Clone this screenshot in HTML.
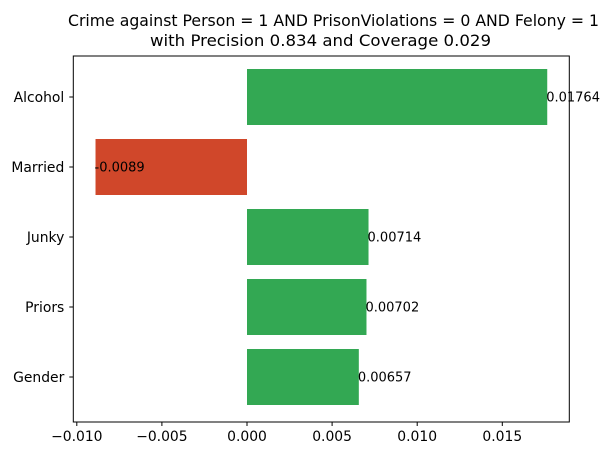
<!DOCTYPE html>
<html><head><meta charset="utf-8"><style>
body{margin:0;background:#fff;font-family:"DejaVu Sans","Liberation Sans",sans-serif;}
svg text{font-family:"DejaVu Sans","Liberation Sans",sans-serif;}
</style></head><body>
<svg id="chart" width="613" height="456" xmlns="http://www.w3.org/2000/svg">
<text x="68" y="26" font-size="16" textLength="531" lengthAdjust="spacingAndGlyphs">Crime against Person = 1 AND PrisonViolations = 0 AND Felony = 1</text>
<text x="150" y="46" font-size="16" textLength="341" lengthAdjust="spacingAndGlyphs">with Precision 0.834 and Coverage 0.029</text>
<g id="plot"></g>
</svg>
<script>
const categories = ["Alcohol","Married","Junky","Priors","Gender"];
const values = [0.01764,-0.0089,0.00714,0.00702,0.00657];
const labels = ["0.01764","-0.0089","0.00714","0.00702","0.00657"];
const ticks = [-0.010,-0.005,0.000,0.005,0.010,0.015];
const tickLabels = ["\u22120.010","\u22120.005","0.000","0.005","0.010","0.015"];

const L=73.3,R=569.3,T=56,B=422;
const x0=247, k=17020;
const xs=v=>x0+v*k;
const ys=i=>97+i*70;
const NS="http://www.w3.org/2000/svg";
const g=document.getElementById('plot');
function mk(t,a){const e=document.createElementNS(NS,t);for(const n in a)e.setAttribute(n,a[n]);g.appendChild(e);return e;}
values.forEach((v,i)=>{
  const x=Math.min(xs(0),xs(v)),w=Math.abs(xs(v)-xs(0));
  const r=mk('rect',{x:x,y:ys(i)-28,width:w,height:56,fill:v>=0?'#33a853':'#d0472a'});
  
  
  const t=mk('text',{x:xs(v)-1,y:ys(i)+1,'font-size':13,'dominant-baseline':'middle'});
  t.textContent=labels[i];
  
  
  const tk=mk('line',{x1:L-4,x2:L,y1:ys(i),y2:ys(i),stroke:'#000'});
  
  
  const yl=mk('text',{x:L-9,y:ys(i)+5,'font-size':13.9,'text-anchor':'end'});
  yl.textContent=categories[i];
  
  
});
ticks.forEach((v,i)=>{
  const tk=mk('line',{x1:xs(v),x2:xs(v),y1:B,y2:B+4,stroke:'#000'});
  
  
  const t=mk('text',{x:xs(v),y:B+19,'font-size':13.9,'text-anchor':'middle'});
  t.textContent=tickLabels[i];
  
  
});
const fr=mk('rect',{x:L,y:T,width:R-L,height:B-T,fill:'none',stroke:'#000','stroke-width':1});


</script>
</body></html>
